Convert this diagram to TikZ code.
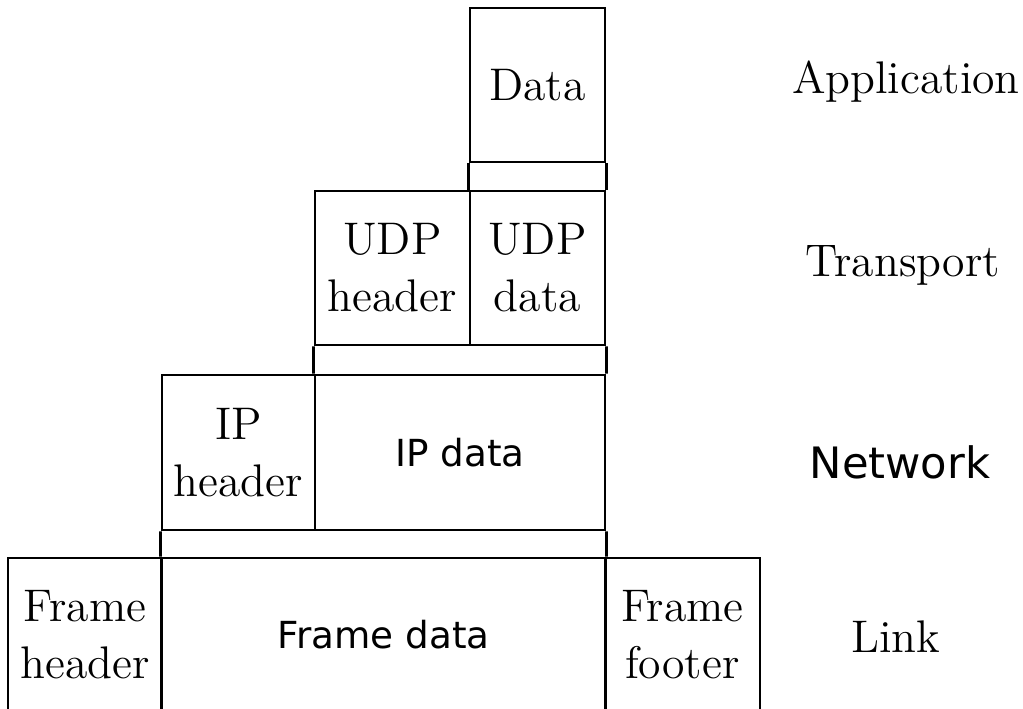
\documentclass[tikz,border=0pt]{standalone}
\usepackage{fontspec}
\usepackage{tikz}
\usetikzlibrary{positioning}

\newfontfamily\dejavu{DejaVu Sans}
\newcommand{\serifbig}{\fontsize{13}{16.2}\selectfont}
\newcommand{\sansmid}{\dejavu\fontsize{10.6}{13}\selectfont}
\newcommand{\sansbig}{\dejavu\fontsize{12.3}{15}\selectfont}

\tikzset{
    layer/.style={draw, inner sep=0pt, align=center, font=\serifbig},
    sanslayer/.style={layer, font=\sansmid},
    level/.style={inner sep=0pt, font=\serifbig}
}

\begin{document}
\begin{tikzpicture}[x=0.01cm, y=-0.01cm, line width=0.8pt]
                \useasboundingbox (0,0) rectangle (1023,709);
                \clip (0,0) rectangle (1023,709);

                %Nodes
                \node[layer, minimum width=1.35cm, minimum height=1.54cm] at (537.5,85)  (data)   {Data};
                \node[layer, minimum width=1.55cm, minimum height=1.54cm] at (392.5,268) (udph)   {UDP\\header};
                \node[layer, minimum width=1.35cm, minimum height=1.54cm] at (537.5,268) (udpd)   {UDP\\data};
                \node[layer, minimum width=1.53cm, minimum height=1.55cm] at (238.5,452.5) (iph)  {IP\\header};
                \node[sanslayer, minimum width=2.90cm, minimum height=1.55cm] at (460,452.5) (ipd) {IP data};
                \node[layer, minimum width=1.54cm, minimum height=1.54cm] at (85,635)    (frameh) {Frame\\header};
                \node[sanslayer, minimum width=4.43cm, minimum height=1.54cm] at (383.5,635) (framed) {Frame data};
                \node[layer, minimum width=1.55cm, minimum height=1.54cm] at (682.5,635) (framef) {Frame\\footer};

                \node[level] at (906,82)  (app)  {Application};
                \node[level] at (903,265) (trans) {Transport};
                \node[level, font=\sansbig] at (900,462) (net) {Network};
                \node[level] at (896,637) (link) {Link};

                %Lines
                \draw (data.south west) -- (udpd.north west);
                \draw (data.south east) -- (udpd.north east);
                \draw (udph.south west) -- (ipd.north west);
                \draw (udpd.south east) -- (ipd.north east);
                \draw (iph.south west) -- (framed.north west);
                \draw (ipd.south east) -- (framed.north east);
            \end{tikzpicture}
\end{document}
